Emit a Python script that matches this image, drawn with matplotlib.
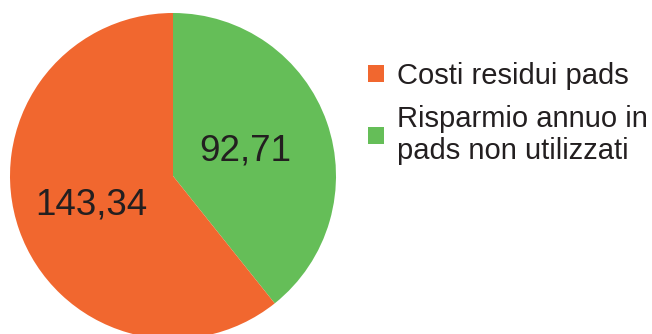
import numpy as np
import matplotlib
matplotlib.use("Agg")
import matplotlib.pyplot as plt

plt.rcParams['font.family'] = ['Liberation Sans', 'DejaVu Sans']

labels = ["Risparmio annuo in\npads non utilizzati", "Costi residui pads"]
values = [92.71, 143.34]
value_text = ["92,71", "143,34"]
colors = ["#65BE58", "#F1672F"]
label_dist = [0.47, 0.53]

fig = plt.figure(figsize=(6.52, 3.34), dpi=100)
ax = fig.add_axes([10 / 652, -5 / 334, 326 / 652, 326 / 334])
wedges, _ = ax.pie(values, colors=colors, startangle=90, counterclock=False,
                   radius=1.0, wedgeprops=dict(linewidth=0))
ax.set_xlim(-1, 1)
ax.set_ylim(-1, 1)
ax.set_aspect('equal')
ax.axis('off')

for w, txt, d in zip(wedges, value_text, label_dist):
    mid = np.deg2rad((w.theta1 + w.theta2) / 2)
    ax.text(d * np.cos(mid), d * np.sin(mid), txt, ha='center', va='center',
            fontsize=26.5, color='#231F20')

# legend: orange first, then green
leg = fig.legend([wedges[1], wedges[0]], [labels[1], labels[0]],
                 loc='upper left', bbox_to_anchor=(368 / 652, 1 - 62 / 334),
                 frameon=False, fontsize=21, handlelength=0.55, handleheight=0.55,
                 handletextpad=0.45, labelspacing=0.5, borderpad=0, borderaxespad=0)
for t in leg.get_texts():
    t.set_color('#231F20')
    t.set_linespacing(1.2)

fig.savefig("out.png", dpi=100)
